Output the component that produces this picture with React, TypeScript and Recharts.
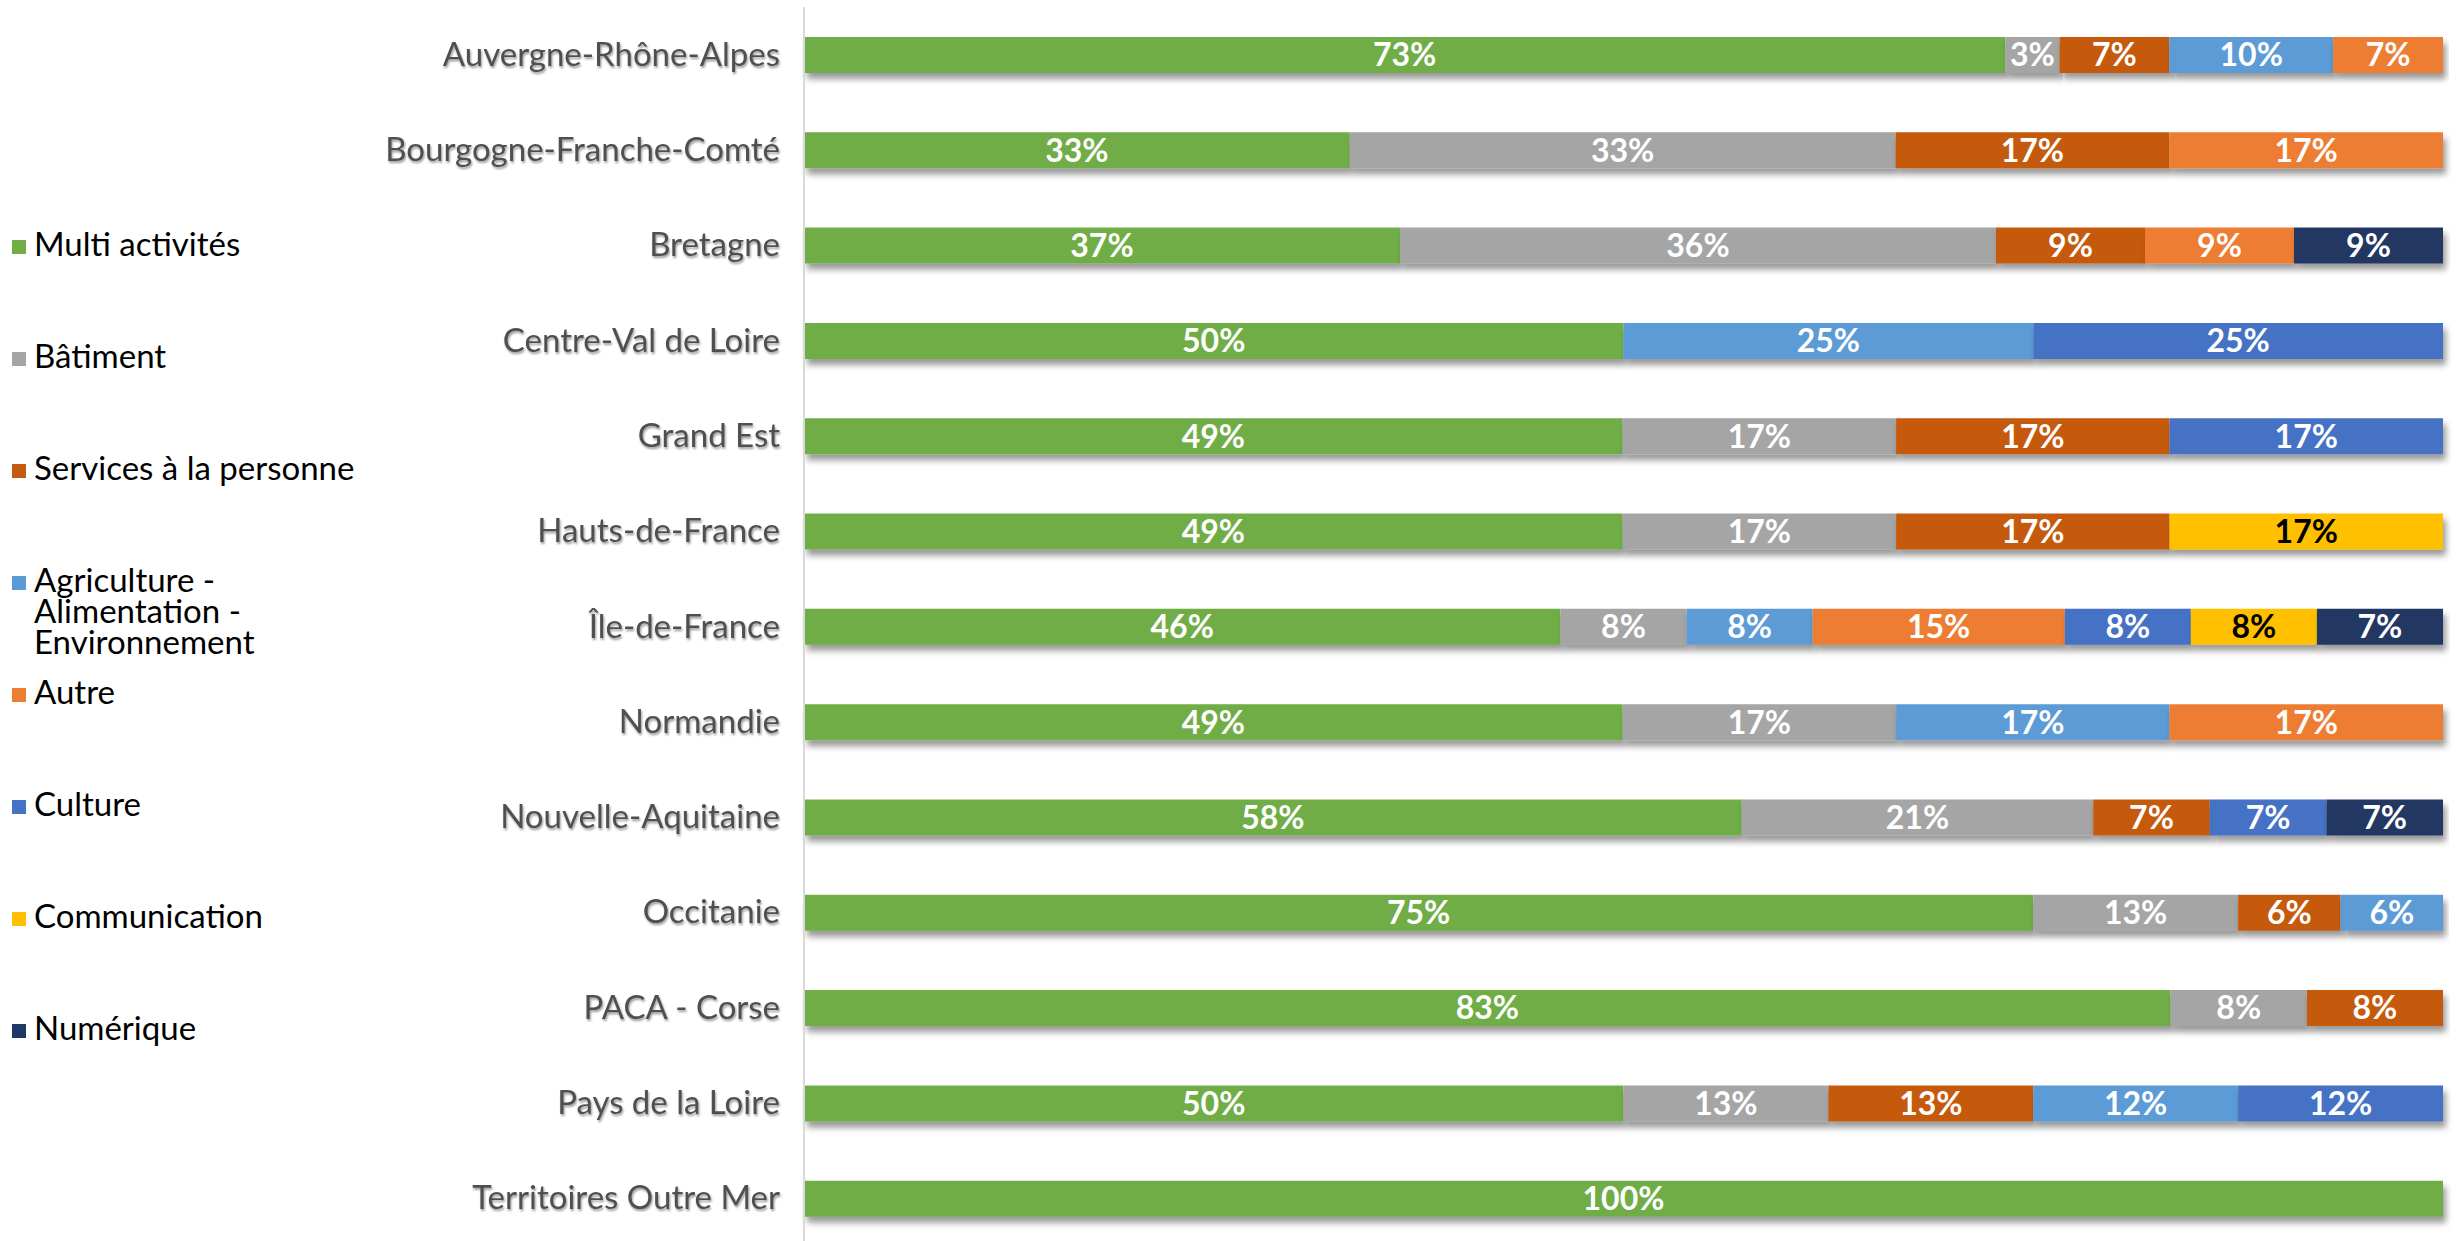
import { BarChart, Bar, XAxis, YAxis, Legend, LabelList, Rectangle } from "recharts";

const regions = [
  "Auvergne-Rhône-Alpes",
  "Bourgogne-Franche-Comté",
  "Bretagne",
  "Centre-Val de Loire",
  "Grand Est",
  "Hauts-de-France",
  "Île-de-France",
  "Normandie",
  "Nouvelle-Aquitaine",
  "Occitanie",
  "PACA - Corse",
  "Pays de la Loire",
  "Territoires Outre Mer",
];

// shares (segment widths, %) as measured on the picture
const multi = [73.3, 33.3, 36.4, 50, 50, 50, 46.2, 50, 57.1, 75, 83.3, 50, 100];
const batiment = [3.3, 33.3, 36.4, null, 16.7, 16.7, 7.7, 16.7, 21.4, 12.5, 8.3, 12.5, null];
const services = [6.7, 16.7, 9.1, null, 16.7, 16.7, null, null, 7.1, 6.25, 8.3, 12.5, null];
const agriculture = [10, null, null, 25, null, null, 7.7, 16.7, null, 6.25, null, 12.5, null];
const autre = [6.7, 16.7, 9.1, null, null, null, 15.4, 16.7, null, null, null, null, null];
const culture = [null, null, null, 25, 16.7, null, 7.7, null, 7.1, null, null, 12.5, null];
const communication = [null, null, null, null, null, 16.7, 7.7, null, null, null, null, null, null];
const numerique = [null, null, 9.1, null, null, null, 7.7, null, 7.1, null, null, null, null];

// percentages printed on the segments
const multiLbl = [73, 33, 37, 50, 49, 49, 46, 49, 58, 75, 83, 50, 100];
const batimentLbl = [3, 33, 36, null, 17, 17, 8, 17, 21, 13, 8, 13, null];
const servicesLbl = [7, 17, 9, null, 17, 17, null, null, 7, 6, 8, 13, null];
const agricultureLbl = [10, null, null, 25, null, null, 8, 17, null, 6, null, 12, null];
const autreLbl = [7, 17, 9, null, null, null, 15, 17, null, null, null, null, null];
const cultureLbl = [null, null, null, 25, 17, null, 8, null, 7, null, null, 12, null];
const communicationLbl = [null, null, null, null, null, 17, 8, null, null, null, null, null, null];
const numeriqueLbl = [null, null, 9, null, null, null, 7, null, 7, null, null, null, null];

const series = [
  { key: "multi", name: "Multi activités", values: multi, labels: multiLbl, color: "#70AD47", text: "#fff" },
  { key: "batiment", name: "Bâtiment", values: batiment, labels: batimentLbl, color: "#A5A5A5", text: "#fff" },
  { key: "services", name: "Services à la personne", values: services, labels: servicesLbl, color: "#C55A11", text: "#fff" },
  { key: "agri", name: "Agriculture - Alimentation - Environnement", values: agriculture, labels: agricultureLbl, color: "#5B9BD5", text: "#fff" },
  { key: "autre", name: "Autre", values: autre, labels: autreLbl, color: "#ED7D31", text: "#fff" },
  { key: "culture", name: "Culture", values: culture, labels: cultureLbl, color: "#4472C4", text: "#fff" },
  { key: "comm", name: "Communication", values: communication, labels: communicationLbl, color: "#FFC000", text: "#000" },
  { key: "num", name: "Numérique", values: numerique, labels: numeriqueLbl, color: "#203864", text: "#fff" },
];

const data = regions.map((r, i) => {
  const row: Record<string, any> = { region: r };
  series.forEach((s) => {
    row[s.key] = s.values[i];
    row[s.key + "Lbl"] = s.labels[i];
  });
  return row;
});

const FONT = "Lato, 'Open Sans', sans-serif";

function LegendBox() {
  return (
    <div style={{ paddingTop: 228, fontFamily: FONT, fontSize: 33, color: "#000" }}>
      {series.map((s) => (
        <div key={s.key} style={{ height: 112, display: "flex", alignItems: "flex-start" }}>
          <span
            style={{
              display: "inline-block",
              width: 14,
              height: 14,
              background: s.color,
              marginLeft: 12,
              marginRight: 8,
              marginTop: 12,
              flexShrink: 0,
            }}
          />
          <span style={{ whiteSpace: "pre-line", lineHeight: "31px" }}>
            {s.name.replace(/ - /g, " -\n")}
          </span>
        </div>
      ))}
    </div>
  );
}

function RegionTick({ x, y, payload }: any) {
  return (
    <text
      x={x}
      y={y}
      dy={11}
      textAnchor="end"
      fill="#505050"
      fontFamily={FONT}
      fontSize={33}
      filter="url(#txtShadow)"
    >
      {payload.value}
    </text>
  );
}

export default function App() {
  return (
    <div style={{ position: "absolute", left: 0, top: 0, width: 2463, height: 1241, overflow: "hidden", background: "#fff" }}>
      <BarChart
        width={2463}
        height={1246}
        data={data}
        layout="vertical"
        stackOffset="expand"
        barSize={36}
        margin={{ top: 7, right: 20, bottom: 0, left: 0 }}
      >
        <defs>
          <filter id="barShadow" x="-5%" y="-30%" width="110%" height="190%">
            <feDropShadow dx="3" dy="6" stdDeviation="3" floodColor="#000" floodOpacity="0.4" />
          </filter>
          <filter id="txtShadow" x="-5%" y="-30%" width="110%" height="170%">
            <feDropShadow dx="1" dy="2" stdDeviation="1.2" floodColor="#000" floodOpacity="0.4" />
          </filter>
        </defs>
        <XAxis type="number" hide domain={[0, 1]} />
        <YAxis
          type="category"
          dataKey="region"
          width={444}
          tickLine={false}
          axisLine={{ stroke: "#D9D9D9", strokeWidth: 2 }}
          tick={<RegionTick />}
          tickMargin={18}
          interval={0}
        />
        <Legend
          layout="vertical"
          align="left"
          verticalAlign="top"
          wrapperStyle={{ left: 0, top: 0, width: 360 }}
          content={<LegendBox />}
        />
        {series.map((s) => (
          <Bar
            key={s.key}
            dataKey={s.key}
            name={s.name}
            stackId="a"
            fill={s.color}
            isAnimationActive={false}
            shape={(p: any) => <Rectangle {...p} filter="url(#barShadow)" />}
          >
            <LabelList
              dataKey={s.key + "Lbl"}
              position="center"
              fill={s.text}
              fontFamily={FONT}
              fontWeight={700}
              fontSize={32}
              formatter={(v: any) => (v == null ? "" : `${v}%`)}
            />
          </Bar>
        ))}
      </BarChart>
    </div>
  );
}
